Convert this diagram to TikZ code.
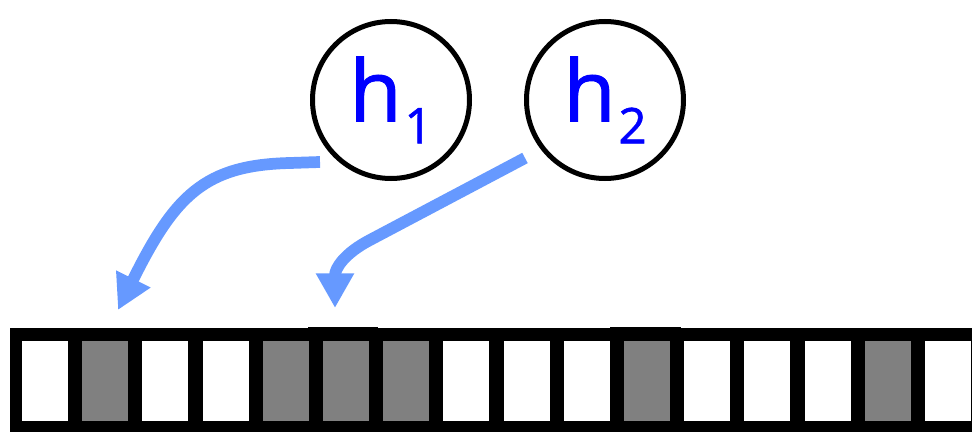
\documentclass[tikz,border=0pt]{standalone}
\usepackage{fontspec}
\setmainfont{Open Sans}
\newfontfamily\hfont[FakeBold=1.2]{Open Sans}
\usetikzlibrary{arrows.meta}
\definecolor{arrowblue}{RGB}{102,153,255}
\definecolor{cellgray}{RGB}{128,128,128}
\definecolor{hblue}{RGB}{0,0,255}
\tikzset{
  hcirc/.style={circle, draw=black, line width=3.75pt, minimum size=117.75pt, inner sep=0pt, text=hblue},
  cellbox/.style={rectangle, inner sep=0pt, minimum width=34.5pt, minimum height=60pt, draw=none},
  conn/.style={draw=arrowblue, line width=8.8pt, -{Triangle[width=27pt,length=26pt]}},
}
\newcommand{\hlabel}[1]{\hfont\fontsize{64pt}{70pt}\selectfont h\hspace{2pt}\raisebox{-16.5pt}{\fontsize{37pt}{40pt}\selectfont #1}}
\begin{document}
\begin{tikzpicture}[x=0.75pt,y=-0.75pt]
\useasboundingbox (0,0) rectangle (972,432);
% bar background
\fill[black] (10,328) rectangle (972,432);
\fill[black] (308,326.5) rectangle (378,330);
\fill[black] (610,326.5) rectangle (681,330);
\foreach \i/\f in {1/white,2/cellgray,3/white,4/white,5/cellgray,6/cellgray,7/cellgray,8/white,9/white,10/white,11/cellgray,12/white,13/white,14/white,15/cellgray,16/white}{
  \node[cellbox, fill=\f] (c\i) at ({22+(\i-1)*60.2+23},381) {};
}
% circles
\node[hcirc] (h1) at (391,100) {\hlabel{1}};
\node[hcirc] (h2) at (605,100) {\hlabel{2}};
% arrows
\coordinate (s1) at (320,162);
\coordinate (t1) at (118,310);
\coordinate (s2) at (525,158);
\coordinate (m2) at (370,240);
\coordinate (t2) at (335,308);
\draw[conn] (s1) -- (290,163) .. controls (205,165) and (175,195) .. (t1);
\draw[conn] (s2) -- (m2) .. controls (345,253) and (335,268) .. (t2);
\end{tikzpicture}
\end{document}
